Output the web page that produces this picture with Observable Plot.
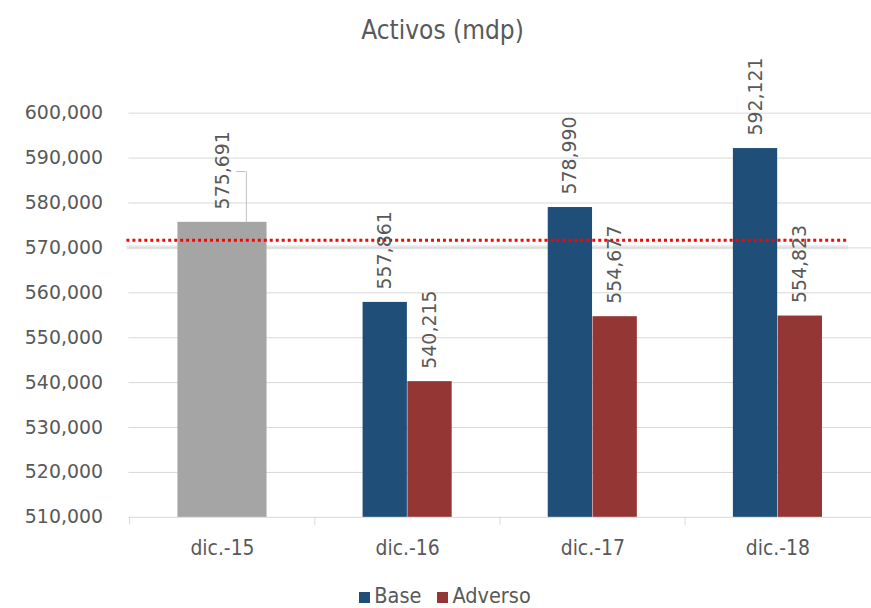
<!DOCTYPE html>
<html>
<head>
<meta charset="utf-8">
<script src="https://cdn.jsdelivr.net/npm/d3@7"></script>
<script src="https://cdn.jsdelivr.net/npm/@observablehq/plot@0.6"></script>
<style>
  html, body { margin: 0; padding: 0; background: #fff; overflow: hidden; }
  body { width: 871px; height: 608px; color: #595959; font-family: "DejaVu Sans Condensed", "DejaVu Sans", sans-serif; }
  #title { height: 44px; box-sizing: border-box; padding-top: 17px; padding-left: 14px; text-align: center; font-size: 26px; line-height: 26px; }
  #chart svg { display: block; }
  #legend { height: 32px; box-sizing: border-box; padding-top: 12px; padding-left: 19px; text-align: center; font-size: 21.5px; line-height: 20px; }
  #legend .sw { display: inline-block; width: 11px; height: 11px; margin-right: 4px; vertical-align: 0px; }
  #legend .item { margin: 0 8px; }
</style>
</head>
<body>
<div id="title">Activos (mdp)</div>
<div id="chart"></div>
<div id="legend"></div>
<script>
// Periodos del eje horizontal
const periodos = ["dic.-15", "dic.-16", "dic.-17", "dic.-18"];
// Dato observado (dic.-15)
const historicoPeriodo = ["dic.-15"];
const historicoValor = [575691];
// Escenarios proyectados
const escenarioPeriodos = ["dic.-16", "dic.-17", "dic.-18"];
const baseValores = [557861, 578990, 592121];
const adversoValores = [540215, 554677, 554823];
// Umbral de referencia (línea punteada)
const umbral = [571700];
// Marcas del eje vertical
const yTicks = [510000, 520000, 530000, 540000, 550000, 560000, 570000, 580000, 590000, 600000];
const yMin = yTicks[0];

const colores = { historico: "#a5a5a5", base: "#1f4e79", adverso: "#943634" };
const series = [
  { nombre: "Base", color: colores.base },
  { nombre: "Adverso", color: colores.adverso }
];

const historico = historicoPeriodo.map((p, i) => ({ periodo: p, valor: historicoValor[i] }));
const base = escenarioPeriodos.map((p, i) => ({ periodo: p, valor: baseValores[i] }));
const adverso = escenarioPeriodos.map((p, i) => ({ periodo: p, valor: adversoValores[i] }));

const fmt = d3.format(",");
const half = 93.25;   // half of a category band
const grid = "#d9d9d9";

const etiqueta = (data, dx) => Plot.text(data, {
  x: "periodo", y: "valor", text: d => fmt(d.valor),
  rotate: -90, textAnchor: "start", lineAnchor: "middle",
  dx, dy: -13, fill: "#595959", fontSize: 19
});

const chart = Plot.plot({
  width: 875,
  height: 532,
  marginTop: 69,
  marginBottom: 57,
  marginLeft: 129,
  marginRight: 0,
  style: { fontFamily: "DejaVu Sans, sans-serif", fontSize: "19px", color: "#595959", background: "#fff", overflow: "visible" },
  x: { type: "band", domain: periodos, padding: 0 },
  y: { domain: [yMin, yTicks[yTicks.length - 1]] },
  marks: [
    // horizontal gridlines
    Plot.ruleY(yTicks, { stroke: grid, strokeWidth: 1 }),
    // soft shadow under the threshold line
    Plot.ruleY(umbral, { dy: 7, stroke: "#cfcfcf", strokeWidth: 4, strokeOpacity: 0.45, insetLeft: -2, insetRight: 23 }),
    // category separators below the baseline
    Plot.ruleX(periodos, { x: d => d, dx: -half, y1: yMin, y2: yMin, insetBottom: -8, stroke: grid }),
    // bars
    Plot.barY(historico, { x: "periodo", y1: yMin, y2: "valor", fill: colores.historico, insetLeft: 48.25, insetRight: 48.25 }),
    Plot.barY(base, { x: "periodo", y1: yMin, y2: "valor", fill: colores.base, insetLeft: 48.25, insetRight: 93.25 }),
    Plot.barY(adverso, { x: "periodo", y1: yMin, y2: "valor", fill: colores.adverso, insetLeft: 93.25, insetRight: 48.25 }),
    // leader line of the dic.-15 label
    Plot.ruleX(historico, { x: "periodo", y1: "valor", y2: "valor", dx: 24, insetTop: -51, stroke: "#bfbfbf" }),
    Plot.ruleY(historico, { y: "valor", x1: "periodo", x2: "periodo", dy: -51, insetLeft: 107, insetRight: 69.5, stroke: "#bfbfbf" }),
    // threshold
    Plot.ruleY(umbral, { stroke: "#ff0000", strokeWidth: 3, strokeDasharray: "3,3", insetLeft: -2, insetRight: 23 }),
    // value labels
    etiqueta(historico, 0),
    etiqueta(base, -22.5),
    etiqueta(adverso, 22.5),
    // axes
    Plot.axisY({ ticks: yTicks, tickSize: 0, tickPadding: 26, tickFormat: fmt, label: null, fontSize: 19 }),
    Plot.axisX({ tickSize: 0, tickPadding: 23, label: null, fontSize: 21, fontFamily: "DejaVu Sans Condensed, DejaVu Sans, sans-serif" })
  ]
});
document.getElementById("chart").appendChild(chart);

const legend = document.getElementById("legend");
legend.innerHTML = series.map(s =>
  `<span class="item"><span class="sw" style="background:${s.color}"></span>${s.nombre}</span>`
).join("");
</script>
</body>
</html>
